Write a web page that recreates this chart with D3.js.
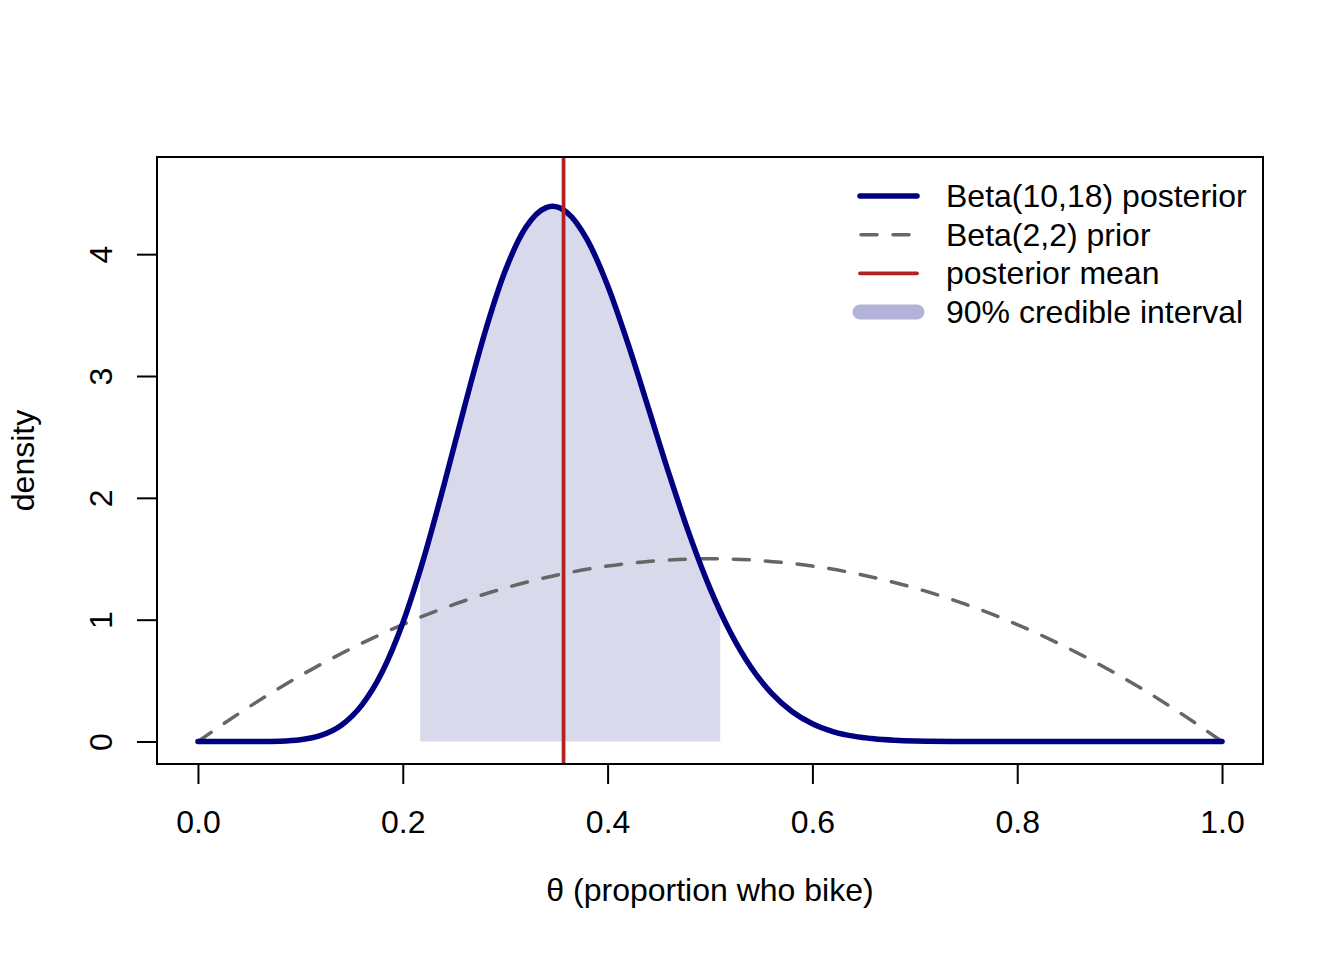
<!DOCTYPE html>
<html>
<head>
<meta charset="utf-8">
<script src="https://cdn.jsdelivr.net/npm/d3@7"></script>
<style>
  body { margin: 0; background: #fff; }
  svg text { font-family: "Liberation Sans", Arial, Helvetica, sans-serif; fill: #000; }
</style>
</head>
<body>
<div id="chart"></div>
<script>
// posterior Beta(10,18)
const theta = [0, 0.02, 0.04, 0.06, 0.08, 0.10, 0.12, 0.14, 0.16, 0.18, 0.20, 0.22, 0.24, 0.26, 0.28,
  0.30, 0.32, 0.34, 0.346, 0.36, 0.38, 0.40, 0.42, 0.44, 0.46, 0.48, 0.50, 0.52, 0.54, 0.56, 0.58,
  0.60, 0.62, 0.64, 0.66, 0.68, 0.70, 0.75, 0.80, 0.90, 1.0];
const posterior = [0, 0, 0.00001, 0.0003, 0.0027, 0.014, 0.050, 0.134, 0.299, 0.573, 0.973, 1.491, 2.098, 2.740, 3.351,
  3.863, 4.218, 4.382, 4.393, 4.345, 4.119, 3.743, 3.263, 2.732, 2.196, 1.696, 1.257, 0.894, 0.609, 0.397, 0.247,
  0.146, 0.082, 0.044, 0.022, 0.010, 0.0044, 0.0004, 0, 0, 0];

// prior Beta(2,2)
const priorTheta = [0, 0.05, 0.10, 0.15, 0.20, 0.25, 0.30, 0.35, 0.40, 0.45, 0.50,
  0.55, 0.60, 0.65, 0.70, 0.75, 0.80, 0.85, 0.90, 0.95, 1.0];
const prior = [0, 0.285, 0.54, 0.765, 0.96, 1.125, 1.26, 1.365, 1.44, 1.485, 1.5,
  1.485, 1.44, 1.365, 1.26, 1.125, 0.96, 0.765, 0.54, 0.285, 0];

// 90% credible interval and posterior mean
const ciBounds = [0.217, 0.510];
const ciDensity = [1.41, 1.07];
const postMean = 0.357;

const xTicks = [0, 0.2, 0.4, 0.6, 0.8, 1.0];
const yTicks = [0, 1, 2, 3, 4];
const legendLabels = ["Beta(10,18) posterior", "Beta(2,2) prior", "posterior mean", "90% credible interval"];

const W = 1344, H = 960;
const box = { left: 157, right: 1263, top: 157, bottom: 764 };
const navy = "#000080", grey = "#666666", red = "#b22222";

const svg = d3.select("#chart").append("svg")
  .attr("width", W).attr("height", H);

const x = d3.scaleLinear().domain([-0.04, 1.04]).range([box.left, box.right]);
const y = d3.scaleLinear().domain([-0.1845, 4.7975]).range([box.bottom, box.top]);

const postPts = theta.map((t, i) => ({ x: t, y: posterior[i] }));
const priorPts = priorTheta.map((t, i) => ({ x: t, y: prior[i] }));
const shadePts = [{ x: ciBounds[0], y: ciDensity[0] }]
  .concat(postPts.filter(d => d.x > ciBounds[0] && d.x < ciBounds[1]))
  .concat([{ x: ciBounds[1], y: ciDensity[1] }]);

// shaded interval
const area = d3.area()
  .x(d => x(d.x)).y0(y(0)).y1(d => y(d.y))
  .curve(d3.curveMonotoneX);
svg.append("path")
  .datum(shadePts)
  .attr("d", area)
  .attr("fill", "#d9d9ec");

const line = d3.line()
  .x(d => x(d.x)).y(d => y(d.y))
  .curve(d3.curveMonotoneX);

// prior, dashed
svg.append("path")
  .datum(priorPts)
  .attr("d", line)
  .attr("fill", "none")
  .attr("stroke", grey)
  .attr("stroke-width", 3.5)
  .attr("stroke-dasharray", "16,16")
  .attr("stroke-linecap", "round");

// posterior
svg.append("path")
  .datum(postPts)
  .attr("d", line)
  .attr("fill", "none")
  .attr("stroke", navy)
  .attr("stroke-width", 5.5)
  .attr("stroke-linecap", "round")
  .attr("stroke-linejoin", "round");

// posterior mean
svg.append("line")
  .attr("x1", x(postMean)).attr("x2", x(postMean))
  .attr("y1", box.top).attr("y2", box.bottom)
  .attr("stroke", red)
  .attr("stroke-width", 3.75);

// box
svg.append("rect")
  .attr("x", box.left).attr("y", box.top)
  .attr("width", box.right - box.left).attr("height", box.bottom - box.top)
  .attr("fill", "none").attr("stroke", "#000").attr("stroke-width", 2);

// x axis
const gx = svg.append("g")
  .attr("transform", `translate(0,${box.bottom})`)
  .call(d3.axisBottom(x).tickValues(xTicks).tickFormat(d3.format(".1f")).tickSize(20).tickSizeOuter(0));
gx.select(".domain").remove();
gx.selectAll(".tick line").attr("stroke", "#000").attr("stroke-width", 2);
gx.selectAll(".tick text")
  .attr("y", 69).attr("dy", null)
  .style("font-size", "32px")
  .style("font-family", '"Liberation Sans", Arial, sans-serif');

// y axis
const gy = svg.append("g")
  .attr("transform", `translate(${box.left},0)`)
  .call(d3.axisLeft(y).tickValues(yTicks).tickFormat(d3.format("d")).tickSize(20).tickSizeOuter(0));
gy.select(".domain").remove();
gy.selectAll(".tick line").attr("stroke", "#000").attr("stroke-width", 2);
gy.selectAll(".tick text")
  .attr("x", null).attr("dy", null)
  .attr("text-anchor", "middle")
  .attr("transform", "translate(-45,0) rotate(-90)")
  .style("font-size", "32px")
  .style("font-family", '"Liberation Sans", Arial, sans-serif');

// axis titles
svg.append("text")
  .attr("x", (box.left + box.right) / 2).attr("y", 901)
  .attr("text-anchor", "middle")
  .style("font-size", "32px")
  .text("θ (proportion who bike)");

svg.append("text")
  .attr("transform", `translate(34,${(box.top + box.bottom) / 2}) rotate(-90)`)
  .attr("text-anchor", "middle")
  .style("font-size", "32px")
  .text("density");

// legend
const legendStyles = [
  { stroke: navy, width: 5.5, dash: null },
  { stroke: grey, width: 3.5, dash: "16,16" },
  { stroke: red, width: 3.75, dash: null },
  { stroke: "#b3b3d9", width: 15, dash: null }
];
const legendRowY = d3.scaleLinear().domain([0, 3]).range([196, 312]);
const legend = svg.selectAll(".legend")
  .data(legendLabels)
  .enter()
  .append("g")
  .attr("class", "legend")
  .attr("transform", (d, i) => `translate(0,${legendRowY(i)})`);

legend.append("line")
  .attr("x1", (d, i) => i === 1 ? 861 : 860)
  .attr("x2", 917)
  .attr("stroke", (d, i) => legendStyles[i].stroke)
  .attr("stroke-width", (d, i) => legendStyles[i].width)
  .attr("stroke-dasharray", (d, i) => legendStyles[i].dash)
  .attr("stroke-linecap", "round");

legend.append("text")
  .attr("x", 946)
  .attr("y", 11)
  .style("font-size", "32px")
  .text(d => d);
</script>
</body>
</html>
